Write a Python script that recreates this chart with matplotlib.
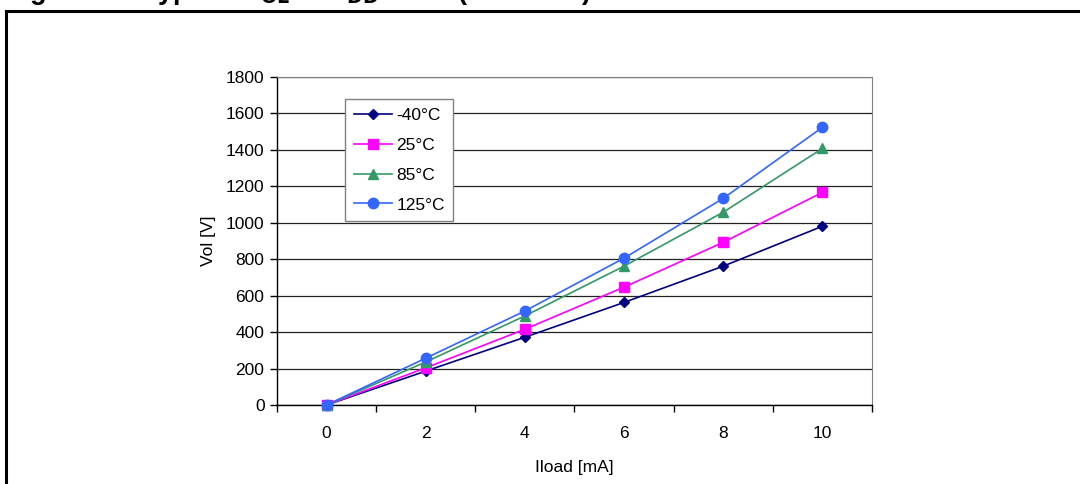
import matplotlib
matplotlib.use("Agg")
import matplotlib.pyplot as plt
from matplotlib.patches import Rectangle

plt.rcParams['font.family'] = ['Liberation Sans', 'DejaVu Sans']

categories = ["0", "2", "4", "6", "8", "10"]
series_names = ["-40°C", "25°C", "85°C", "125°C"]
v_m40 = [0, 186, 372, 563, 762, 981]
v_25 = [0, 204, 416, 647, 893, 1167]
v_85 = [0, 236, 489, 762, 1058, 1408]
v_125 = [0, 257, 516, 806, 1134, 1524]
y_ticks = [0, 200, 400, 600, 800, 1000, 1200, 1400, 1600, 1800]

colors = ["#000080", "#FF00FF", "#339966", "#3366FF"]
markers = ["D", "s", "^", "o"]
msizes = [5.5, 6.5, 7.5, 7.5]
FS = 12.5

fig = plt.figure(figsize=(10.8, 4.84), dpi=100)
W, H = 1080, 484

# outer frame
fig.patches.append(Rectangle((6 / W, -0.05), 1.1, (H - 10.5) / H + 0.05,
                             transform=fig.transFigure, fill=False,
                             edgecolor="black", linewidth=2.2))
# cut-off title
fig.text(591 / W, 1 + 1 / H,
         "Figure 38. Typical V$_{\\mathbf{OL}}$ at V$_{\\mathbf{DD}}$ = 3 V (standard)",
         fontsize=19.5, fontweight="bold", va="baseline", ha="right")

ax = fig.add_axes([277 / W, 1 - 405 / H, (872 - 277) / W, (405 - 77) / H])
x = list(range(len(categories)))
for vals, name, c, m, ms in zip([v_m40, v_25, v_85, v_125], series_names, colors, markers, msizes):
    ax.plot(x, vals, color=c, marker=m, markersize=ms, linewidth=1.2,
            label=name, clip_on=False, zorder=3)

ax.set_xlim(-0.5, len(categories) - 0.5)
ax.set_ylim(0, 1800)
ax.set_yticks(y_ticks)
ax.set_yticklabels([str(v) for v in y_ticks])
ax.yaxis.grid(True, color="#222222", linewidth=0.9)
ax.set_axisbelow(True)

ax.set_xticks([i - 0.5 for i in range(len(categories) + 1)])
ax.set_xticklabels([""] * (len(categories) + 1))
ax.set_xticks(x, minor=True)
ax.set_xticklabels(categories, minor=True)
ax.tick_params(axis="x", which="minor", length=0, pad=15, labelsize=FS)
ax.tick_params(axis="x", which="major", length=5, width=1, direction="out")
ax.tick_params(axis="y", length=5, width=1, labelsize=FS, pad=4)

for s in ["left", "bottom"]:
    ax.spines[s].set_color("black")
    ax.spines[s].set_linewidth(1)
ax.spines["right"].set_color("#808080")
ax.spines["top"].set_color("#808080")

ax.set_xlabel("Iload [mA]", fontsize=FS, labelpad=14)
ax.set_ylabel("Vol [V]", fontsize=FS, labelpad=7)

leg = ax.legend(loc="upper left", bbox_to_anchor=((345 - 277) / (872 - 277), (405 - 99) / (405 - 77)),
                frameon=True, fancybox=False, edgecolor="#808080", framealpha=1,
                fontsize=FS, handlelength=2.2, handletextpad=0.25,
                labelspacing=0.85, borderpad=0.5, borderaxespad=0)
leg.get_frame().set_linewidth(1)

fig.savefig("out.png", dpi=100)
